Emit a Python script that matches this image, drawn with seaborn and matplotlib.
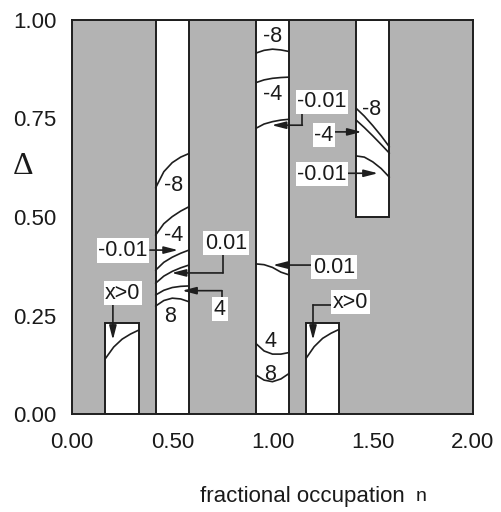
import numpy as np
import pandas as pd
import matplotlib
matplotlib.use("Agg")
import matplotlib.pyplot as plt
import seaborn as sns
from matplotlib.patches import Rectangle

# ---------------- data ----------------
# white (allowed) regions
region_x0 = [0.167, 0.417, 0.917, 1.417, 1.167]
region_x1 = [0.333, 0.583, 1.083, 1.583, 1.333]
region_y0 = [0.00, 0.00, 0.00, 0.50, 0.00]
region_y1 = [0.23, 1.00, 1.00, 1.00, 0.23]

# boundary curves inside the white regions (n, Delta)
col1_n = [0.167, 0.208, 0.250, 0.292, 0.333]
col1_xpos = [0.141, 0.170, 0.190, 0.203, 0.213]

col2_n = [0.417, 0.458, 0.500, 0.542, 0.583]
col2_m8 = [0.574, 0.615, 0.638, 0.652, 0.661]
col2_m4 = [0.454, 0.483, 0.501, 0.515, 0.526]
col2_m001 = [0.365, 0.385, 0.398, 0.408, 0.416]
col2_p001 = [0.332, 0.350, 0.362, 0.371, 0.378]
col2_p4 = [0.302, 0.314, 0.321, 0.324, 0.325]
col2_p8 = [0.274, 0.288, 0.294, 0.292, 0.285]

col3_n = [0.917, 0.958, 1.000, 1.042, 1.083]
col3_m8 = [0.916, 0.923, 0.926, 0.924, 0.920]
col3_m4 = [0.841, 0.848, 0.852, 0.854, 0.855]
col3_m001 = [0.725, 0.736, 0.742, 0.746, 0.748]
col3_p001 = [0.381, 0.379, 0.372, 0.360, 0.353]
col3_p4 = [0.179, 0.160, 0.152, 0.152, 0.156]
col3_p8 = [0.099, 0.086, 0.082, 0.089, 0.103]

col4_n = [1.417, 1.458, 1.500, 1.542, 1.583]
col4_m8 = [0.776, 0.756, 0.732, 0.706, 0.678]
col4_m4 = [0.746, 0.727, 0.706, 0.684, 0.662]
col4_m001 = [0.655, 0.652, 0.640, 0.623, 0.601]

col5_n = [1.167, 1.208, 1.250, 1.292, 1.333]
col5_xpos = [0.141, 0.171, 0.192, 0.205, 0.215]

x_ticks = [0.0, 0.5, 1.0, 1.5, 2.0]
x_ticklabels = ["0.00", "0.50", "1.00", "1.50", "2.00"]
y_ticks = [0.0, 0.25, 0.5, 0.75, 1.0]
y_ticklabels = ["0.00", "0.25", "0.50", "0.75", "1.00"]

# ---------------- assemble ----------------
curve_defs = [
    ("c1", col1_n, col1_xpos),
    ("c2m8", col2_n, col2_m8), ("c2m4", col2_n, col2_m4),
    ("c2m001", col2_n, col2_m001), ("c2p001", col2_n, col2_p001),
    ("c2p4", col2_n, col2_p4), ("c2p8", col2_n, col2_p8),
    ("c3m8", col3_n, col3_m8), ("c3m4", col3_n, col3_m4),
    ("c3m001", col3_n, col3_m001), ("c3p001", col3_n, col3_p001),
    ("c3p4", col3_n, col3_p4), ("c3p8", col3_n, col3_p8),
    ("c4m8", col4_n, col4_m8), ("c4m4", col4_n, col4_m4),
    ("c4m001", col4_n, col4_m001),
    ("c5", col5_n, col5_xpos),
]
rows = []
for name, xs, ys in curve_defs:
    for i, (xv, yv) in enumerate(zip(xs, ys)):
        rows.append({"curve": name, "n": xv, "delta": yv, "order": i})
df = pd.DataFrame(rows)

sns.set_theme(style="white")
plt.rcParams["font.family"] = ["Liberation Sans", "DejaVu Sans"]

fig = plt.figure(figsize=(5.02, 5.12), dpi=100)
ax = fig.add_axes([72 / 502, 1 - 414 / 512, 401 / 502, 394 / 512])

GRAY = "#b3b3b3"
LINE = "#1e1e1e"
TXT = "#1a1a1a"
ax.set_facecolor(GRAY)

for x0, x1, y0, y1 in zip(region_x0, region_x1, region_y0, region_y1):
    ax.add_patch(Rectangle((x0, y0), x1 - x0, y1 - y0, facecolor="white",
                           edgecolor=LINE, lw=1.4, zorder=1))

sns.lineplot(data=df, x="n", y="delta", units="curve", estimator=None,
             sort=False, color=LINE, lw=1.2, ax=ax, zorder=3, legend=False)

ax.set_xlim(0, 2)
ax.set_ylim(0, 1)
ax.set_xticks(x_ticks)
ax.set_xticklabels(x_ticklabels)
ax.set_yticks(y_ticks)
ax.set_yticklabels(y_ticklabels)
ax.tick_params(axis="both", direction="out", length=7, width=1.3,
               colors=LINE, labelsize=16, labelcolor=TXT)
ax.tick_params(axis="y", pad=4)
ax.tick_params(axis="x", pad=6)
for s in ax.spines.values():
    s.set_color(LINE)
    s.set_linewidth(1.4)
    s.set_visible(True)

ax.set_xlabel("fractional occupation", fontsize=16, color=TXT)
ax.xaxis.set_label_coords(0.575, -0.21)
ax.xaxis.label.set_verticalalignment("center")
ax.text(0.870, -0.21, "n", transform=ax.transAxes, fontsize=14,
        ha="center", va="center", color=TXT)
ax.set_ylabel("")
ax.text(-0.122, 0.627, "Δ", transform=ax.transAxes, fontsize=23,
        family=["Liberation Serif", "DejaVu Serif"], ha="center", va="center",
        color=TXT)

FS = 15.5
def label(x, y, s, box=True):
    kw = dict(fontsize=FS, ha="center", va="center", color=TXT, zorder=6)
    if box:
        kw["bbox"] = dict(facecolor="white", edgecolor="none", pad=1.2)
    ax.text(x, y, s, **kw)

def arrow(path):
    xs = [p[0] for p in path]
    ys = [p[1] for p in path]
    if len(path) > 2:
        ax.plot(xs[:-1], ys[:-1], color=LINE, lw=1.2, zorder=5)
    ax.annotate("", xy=path[-1], xytext=path[-2],
                arrowprops=dict(arrowstyle="-|>,head_length=0.7,head_width=0.18",
                                color=LINE, lw=1.2, shrinkA=0, shrinkB=0),
                zorder=5)

# column 2 labels
label(0.505, 0.581, "-8", box=False)
label(0.506, 0.454, "-4", box=False)
label(0.489, 0.247, "8", box=False)
label(0.254, 0.415, "-0.01")
arrow([(0.389, 0.416), (0.529, 0.416)])
label(0.768, 0.434, "0.01")
arrow([(0.753, 0.409), (0.753, 0.358), (0.497, 0.358)])
label(0.738, 0.266, "4")
arrow([(0.748, 0.294), (0.748, 0.313), (0.549, 0.313)])
label(0.254, 0.307, "x>0")
arrow([(0.204, 0.284), (0.204, 0.188)])

# column 3 labels
label(1.0, 0.957, "-8", box=False)
label(1.0, 0.810, "-4", box=False)
label(0.988, 0.184, "4", box=False)
label(0.988, 0.099, "8", box=False)
label(1.247, 0.792, "-0.01")
arrow([(1.149, 0.766), (1.149, 0.733), (0.996, 0.733)])
label(1.307, 0.373, "0.01")
arrow([(1.197, 0.378), (1.002, 0.378)])

# rect 5
label(1.387, 0.284, "x>0")
arrow([(1.297, 0.277), (1.202, 0.277), (1.202, 0.188)])

# column 4 labels
label(1.495, 0.772, "-8", box=False)
label(1.257, 0.708, "-4")
arrow([(1.312, 0.716), (1.445, 0.716)])
label(1.247, 0.609, "-0.01")
arrow([(1.377, 0.611), (1.526, 0.611)])

fig.savefig("out.png", dpi=100, facecolor="white")
